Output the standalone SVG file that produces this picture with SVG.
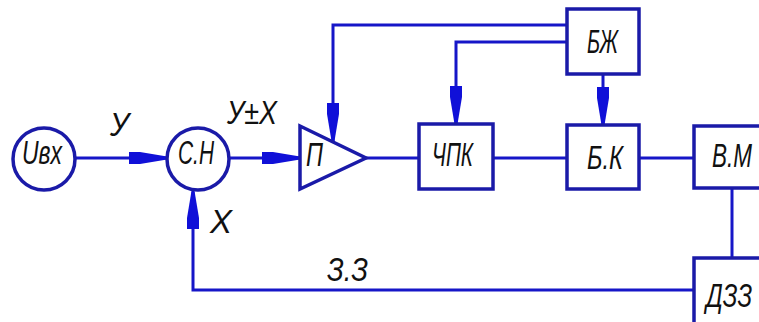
<svg xmlns="http://www.w3.org/2000/svg" width="759" height="322" viewBox="0 0 759 322">
<style>
.ln{fill:none;stroke:#1616c8;stroke-width:3;stroke-linejoin:miter}
.nd{fill:#fff;stroke:#1a1aa8;stroke-width:3.5}
.ah{fill:#1010d8;stroke:none}
.t{font-family:"Liberation Sans",Arial,sans-serif;font-style:italic;font-size:33px;fill:#111}
</style>
<defs>
<polygon id="ahR" class="ah" points="-38,-6 -27,-6 0,-1.5 0,1.5 -27,6 -38,6"/>
</defs>
<rect width="759" height="322" fill="#fff"/>
<g id="connectors">
<polyline class="ln" points="75,158 167,158"/>
<polyline class="ln" points="229,158 300,158"/>
<polyline class="ln" points="366,158 419,158"/>
<polyline class="ln" points="493,158 567,158"/>
<polyline class="ln" points="639,158 694,158"/>
<polyline class="ln" points="732,188 732,258"/>
<polyline class="ln" points="694,290 193,290 193,192"/>
<polyline class="ln" points="567,25 333,25 333,141"/>
<polyline class="ln" points="567,42 456,42 456,124"/>
<polyline class="ln" points="603,74 603,125"/>
<use href="#ahR" transform="translate(167,158)"/>
<use href="#ahR" transform="translate(300,158)"/>
<use href="#ahR" transform="translate(333,141) rotate(90)"/>
<use href="#ahR" transform="translate(456,124) rotate(90)"/>
<use href="#ahR" transform="translate(603,125) rotate(90)"/>
<use href="#ahR" transform="translate(193,191) rotate(-90)"/>
</g>
<g id="n-uvx"><circle class="nd" cx="44" cy="159" r="31"/><text class="t" x="22" y="164" textLength="40" lengthAdjust="spacingAndGlyphs">Uвх</text></g>
<g id="n-sn"><circle class="nd" cx="198" cy="159" r="31"/><text class="t" x="178" y="164" textLength="36" lengthAdjust="spacingAndGlyphs">С.Н</text></g>
<g id="n-p"><polygon class="nd" points="300,126 366,158 300,189"/><text class="t" x="306" y="166" textLength="17" lengthAdjust="spacingAndGlyphs">П</text></g>
<g id="n-chpk"><rect class="nd" x="419" y="124" width="74" height="65"/><text class="t" x="432" y="166" textLength="41" lengthAdjust="spacingAndGlyphs">ЧПК</text></g>
<g id="n-bzh"><rect class="nd" x="567" y="9" width="72" height="65"/><text class="t" x="587" y="53" textLength="31" lengthAdjust="spacingAndGlyphs">БЖ</text></g>
<g id="n-bk"><rect class="nd" x="567" y="125" width="72" height="64"/><text class="t" x="587" y="169" textLength="36" lengthAdjust="spacingAndGlyphs">Б.К</text></g>
<g id="n-vm"><rect class="nd" x="694" y="126" width="80" height="62"/><text class="t" x="712" y="167" textLength="40" lengthAdjust="spacingAndGlyphs">В.М</text></g>
<g id="n-dzz"><rect class="nd" x="694" y="258" width="80" height="80"/><text class="t" x="706" y="307" textLength="46" lengthAdjust="spacingAndGlyphs">ДЗЗ</text></g>
<g id="labels">
<text class="t" x="110" y="136" textLength="19" lengthAdjust="spacingAndGlyphs">У</text>
<text class="t" x="227" y="124" textLength="50" lengthAdjust="spacingAndGlyphs">У±Х</text>
<text class="t" x="210" y="233" textLength="22" lengthAdjust="spacingAndGlyphs">Х</text>
<text class="t" x="327" y="281" textLength="41" lengthAdjust="spacingAndGlyphs">З.З</text>
</g>
</svg>
